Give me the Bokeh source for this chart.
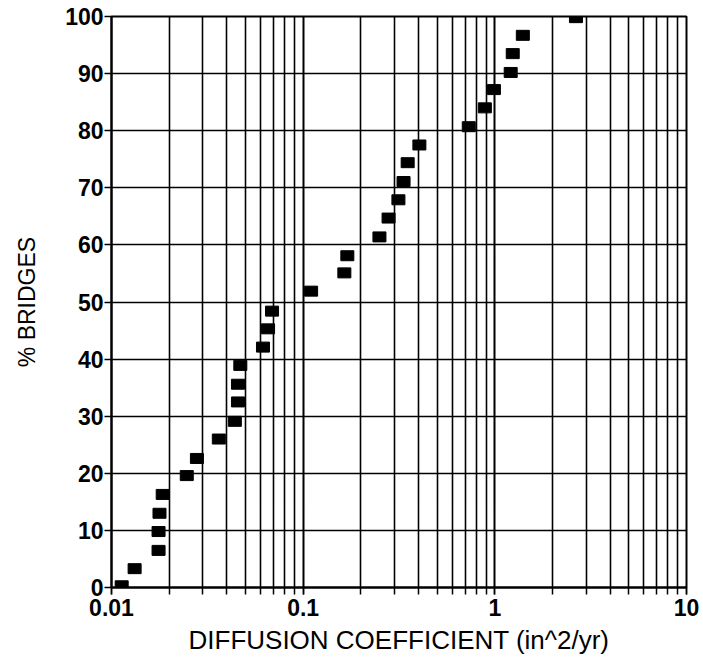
from bokeh.plotting import figure
from bokeh.models import LogTicker, FixedTicker, ColumnDataSource, CustomJSTickFormatter
from bokeh.embed import file_html
from bokeh.resources import INLINE

diffusion = [0.0113, 0.0132, 0.0176, 0.0176, 0.0178, 0.0185, 0.0247, 0.0279,
             0.0363, 0.044, 0.0457, 0.0457, 0.047, 0.0617, 0.0656, 0.0688,
             0.110, 0.164, 0.170, 0.250, 0.279, 0.314, 0.334, 0.351,
             0.404, 0.731, 0.887, 0.989, 1.21, 1.24, 1.40, 2.65]
pct_bridges = [0.3, 3.3, 6.5, 9.8, 13.0, 16.3, 19.6, 22.6,
               26.0, 29.1, 32.5, 35.6, 38.9, 42.1, 45.3, 48.4,
               51.9, 55.1, 58.1, 61.4, 64.7, 67.9, 71.1, 74.4,
               77.5, 80.7, 84.0, 87.2, 90.2, 93.5, 96.7, 99.8]
y_ticks = [0, 10, 20, 30, 40, 50, 60, 70, 80, 90, 100]
x_label = "DIFFUSION COEFFICIENT (in^2/yr)"
y_label = "% BRIDGES"

src = ColumnDataSource(dict(x=diffusion, y=pct_bridges))

p = figure(width=703, height=659, x_axis_type="log", x_range=(0.01, 10), y_range=(0, 100),
           output_backend="svg", toolbar_location=None,
           min_border_left=111, min_border_right=17, min_border_top=16, min_border_bottom=72)

p.rect(x="x", y="y", width=13, height=10, width_units="screen", height_units="screen",
       source=src, fill_color="black", line_color="black")

p.xaxis.ticker = LogTicker(num_minor_ticks=10)
p.xaxis.formatter = CustomJSTickFormatter(code="return tick >= 1 ? tick.toFixed(0) : (tick >= 0.1 ? '0.1' : '0.01');")
p.yaxis.ticker = FixedTicker(ticks=y_ticks)

p.xgrid.ticker = LogTicker(num_minor_ticks=10)
p.xgrid.grid_line_color = "black"
p.xgrid.grid_line_width = 1.6
p.xgrid.minor_grid_line_color = "black"
p.xgrid.minor_grid_line_width = 1.6
p.ygrid.ticker = FixedTicker(ticks=y_ticks)
p.ygrid.grid_line_color = "black"
p.ygrid.grid_line_width = 1.6

p.outline_line_color = "black"
p.outline_line_width = 2

for ax in (p.xaxis[0], p.yaxis[0]):
    ax.axis_line_color = "black"
    ax.axis_line_width = 2
    ax.major_tick_line_color = "black"
    ax.major_tick_line_width = 1.5
    ax.major_tick_out = 7
    ax.major_tick_in = 0
    ax.minor_tick_line_color = "black"
    ax.minor_tick_line_width = 1.5
    ax.minor_tick_out = 7
    ax.minor_tick_in = 0
    ax.major_label_text_font = "Liberation Sans"
    ax.major_label_text_font_style = "bold"
    ax.major_label_text_font_size = "23px"
    ax.major_label_text_color = "black"
    ax.axis_label_text_font = "Liberation Sans"
    ax.axis_label_text_font_style = "normal"
    ax.axis_label_text_color = "black"

p.xaxis.axis_label = x_label
p.yaxis.axis_label = y_label
p.xaxis.axis_label_text_font_size = "26px"
p.yaxis.axis_label_text_font_size = "23px"
p.xaxis.major_label_standoff = 4
p.yaxis.major_label_standoff = 1
p.xaxis.axis_label_standoff = 6
p.yaxis.axis_label_standoff = 22

open("out.html", "w").write(file_html(p, INLINE))
